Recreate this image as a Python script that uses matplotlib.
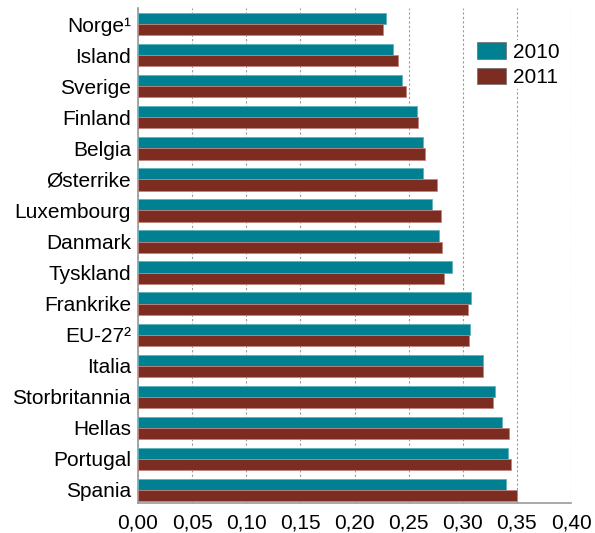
import matplotlib
matplotlib.use("Agg")
import matplotlib.pyplot as plt
from matplotlib.ticker import FuncFormatter, MultipleLocator
import numpy as np

plt.rcParams['font.family'] = ['Liberation Sans', 'DejaVu Sans']

# data
countries = ['Norge¹', 'Island', 'Sverige', 'Finland', 'Belgia', 'Østerrike',
             'Luxembourg', 'Danmark', 'Tyskland', 'Frankrike', 'EU-27²', 'Italia',
             'Storbritannia', 'Hellas', 'Portugal', 'Spania']
v2010 = [0.229, 0.236, 0.244, 0.258, 0.263, 0.263, 0.272, 0.278, 0.290, 0.308,
         0.307, 0.319, 0.330, 0.336, 0.342, 0.340]
v2011 = [0.226, 0.240, 0.248, 0.259, 0.265, 0.276, 0.280, 0.281, 0.283, 0.305,
         0.306, 0.319, 0.328, 0.343, 0.345, 0.350]
years = ['2010', '2011']

teal = '#008091'
red = '#7d2c22'
fs = 15

fig = plt.figure(figsize=(5.95, 5.33), dpi=100)
ax = fig.add_axes([138 / 595, 30 / 533, 433 / 595, 495 / 533])

y = np.arange(len(countries))
h = 0.36
ax.barh(y - h / 2, v2010, height=h, color=teal, edgecolor='#5fb3bd', linewidth=0.6,
        label=years[0], zorder=3)
ax.barh(y + h / 2, v2011, height=h, color=red, edgecolor='#c0857d', linewidth=0.6,
        label=years[1], zorder=3)

ax.set_xlim(0, 0.40)
ax.set_ylim(len(countries) - 0.58, -0.52)
ax.set_yticks(y)
ax.set_yticklabels(countries, fontsize=fs)
ax.xaxis.set_major_locator(MultipleLocator(0.05))
ax.xaxis.set_major_formatter(FuncFormatter(lambda v, p: f'{v:.2f}'.replace('.', ',')))
ax.tick_params(axis='x', labelsize=fs, length=0, pad=7.5)
ax.tick_params(axis='y', length=0, pad=5)

ax.grid(axis='x', color='#9a9a9a', linestyle=(0, (2, 2)), linewidth=0.8, zorder=0)
for s in ['top', 'right']:
    ax.spines[s].set_visible(False)
for s in ['left', 'bottom']:
    ax.spines[s].set_color('#999999')
    ax.spines[s].set_linewidth(1.2)

leg = fig.legend(loc='upper left', bbox_to_anchor=(475 / 595, 1 - 40 / 533), fontsize=fs,
                 frameon=True, facecolor='white', edgecolor='none', framealpha=1,
                 handlelength=1.4, handleheight=0.85, handletextpad=0.3,
                 labelspacing=0.3, borderpad=0.1, borderaxespad=0)
for p in leg.get_patches():
    p.set_edgecolor('#777777')

fig.savefig('out.png', dpi=100)
